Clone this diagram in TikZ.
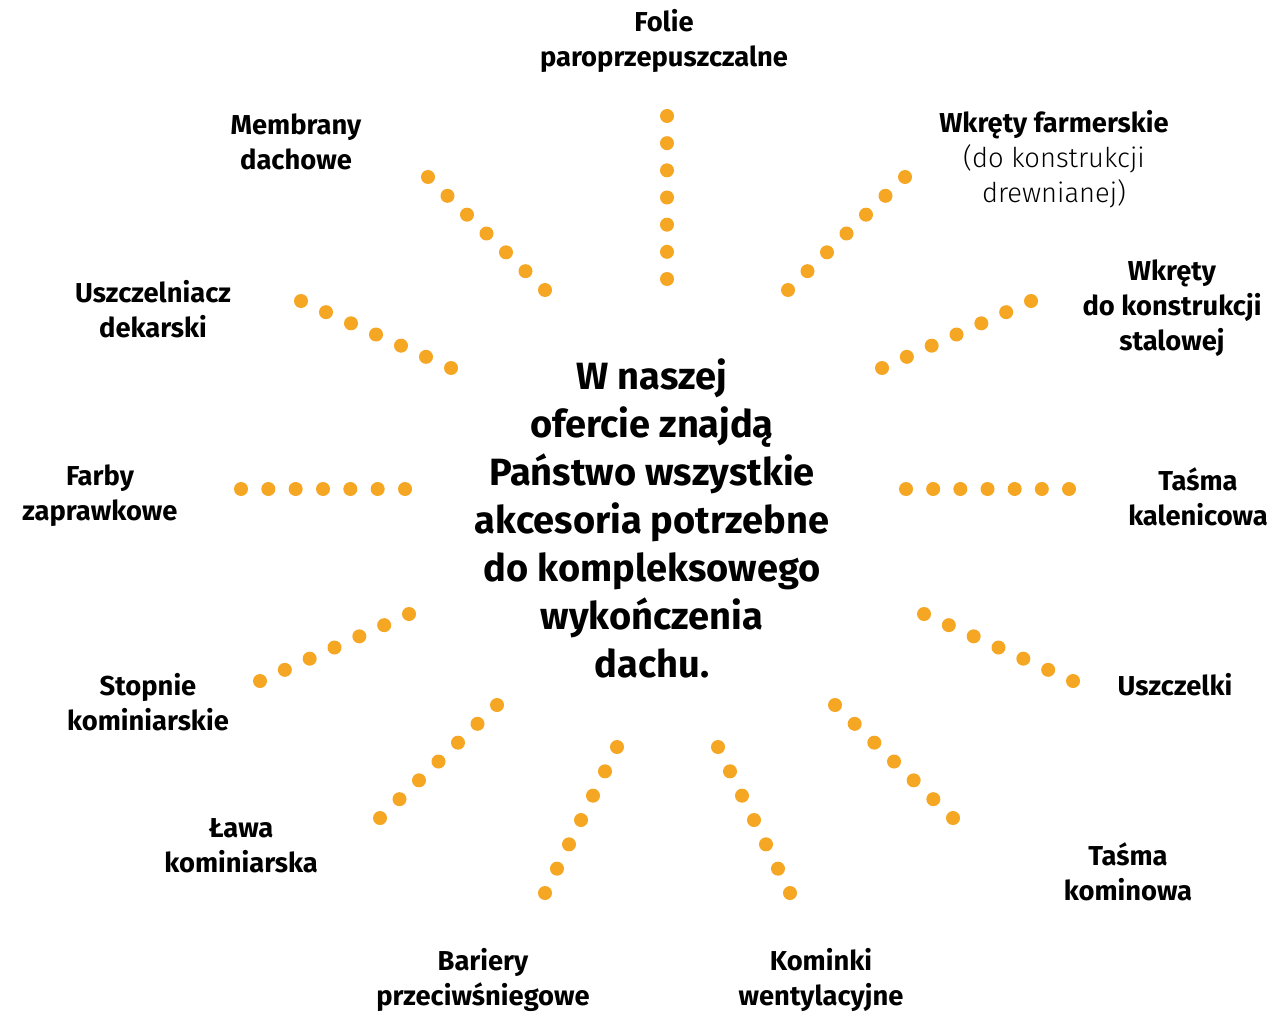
\documentclass[tikz,border=0pt]{standalone}
\usepackage{fontspec}
\setmainfont{Fira Sans}
\newfontfamily\lightfont{Fira Sans Light}
\usetikzlibrary{calc}
\definecolor{dotorange}{HTML}{F5A623}
\begin{document}
\begin{tikzpicture}[x=0.75pt,y=-0.75pt,
  lbl/.style={align=center,font=\fontsize{20.5}{26.25}\selectfont\bfseries,inner sep=0pt},
  centertext/.style={align=center,font=\fontsize{28.5}{36}\selectfont\bfseries,inner sep=0pt},
  dotfill/.style={fill=dotorange}]
\useasboundingbox[fill=white] (0,0) rectangle (1281,1016);

% rays of dots: start x/y, end x/y
\foreach \sx/\sy/\ex/\ey [count=\i] in {
  667/116/667/279,
  905/177/788/290,
  1031/301/882/368,
  906/489/1069/489,
  924/614/1073/681,
  835/705/953/818,
  718/747/790/893,
  617/747/545/893,
  497/705/380/818,
  409/614/260/681,
  241/489/405/489,
  301/301/451/368,
  428/177/545/290} {
  \coordinate (r\i s) at (\sx,\sy);
  \coordinate (r\i e) at (\ex,\ey);
  \foreach \t in {0,...,6} {
    \fill[dotfill] ($(r\i s)!{\t/6}!(r\i e)$) circle (5.25pt);
  }
}

\node[centertext] (center) at (652,518) {W naszej\\ofercie znajdą\\Państwo wszystkie\\akcesoria potrzebne\\do kompleksowego\\wykończenia\\dachu.};

\node[lbl] (folie) at (664,40.5) {Folie\\paroprzepuszczalne};
\node[lbl] (membrany) at (296,142) {Membrany\\dachowe};
\node[lbl] (farmer) at (1054,159.5) {Wkręty farmerskie\\{\mdseries\lightfont (do konstrukcji}\\{\mdseries\lightfont drewnianej)}};
\node[lbl] (uszczelniacz) at (153,309) {Uszczelniacz\\dekarski};
\node[lbl] (stalowe) at (1172,308) {Wkręty\\do konstrukcji\\stalowej};
\node[lbl] (farby) at (100,496) {Farby\\zaprawkowe};
\node[lbl] (kalenicowa) at (1198,497) {Taśma\\kalenicowa};
\node[lbl] (stopnie) at (148,702) {Stopnie\\kominiarskie};
\node[lbl] (uszczelki) at (1175,685) {Uszczelki};
\node[lbl] (lawa) at (241,845.5) {Ława\\kominiarska};
\node[lbl] (kominowa) at (1128,872) {Taśma\\kominowa};
\node[lbl] (bariery) at (483,979.5) {Bariery\\przeciwśniegowe};
\node[lbl] (kominki) at (821,979.5) {Kominki\\wentylacyjne};
\end{tikzpicture}
\end{document}
